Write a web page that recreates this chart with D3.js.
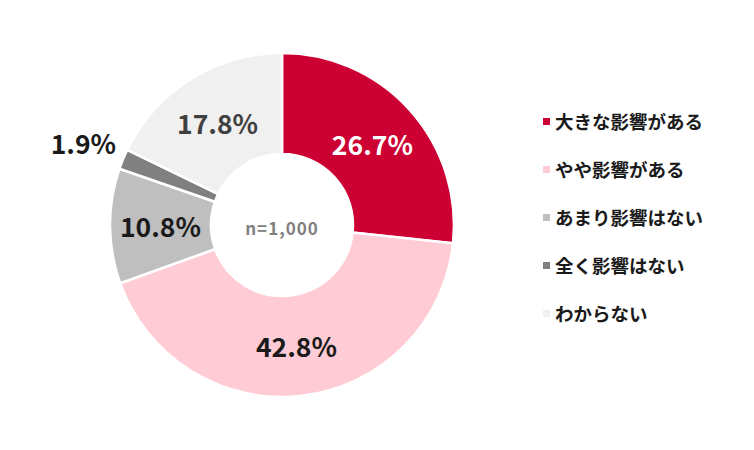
<!DOCTYPE html>
<html>
<head>
<meta charset="utf-8">
<script src="https://cdn.jsdelivr.net/npm/d3@7"></script>
<style>
  body { margin: 0; background: #fff; }
  svg { display: block; }
</style>
</head>
<body>
<div id="chart"></div>
<script>
// data
const categories = ["大きな影響がある", "やや影響がある", "あまり影響はない", "全く影響はない", "わからない"];
const shares = [26.7, 42.8, 10.8, 1.9, 17.8];
const sliceColors = ["#CC0033", "#FFCCD5", "#BFBFBF", "#808080", "#F0F0F0"];
const labelColors = ["#ffffff", "#1a1a1a", "#1a1a1a", "#1a1a1a", "#404040"];
const sampleLabel = "n=1,000";

const width = 754, height = 450;
const cx = 282, cy = 225;
const outerR = 172, innerR = 71;
const fontFamily = "'Noto Sans CJK JP', 'Noto Sans', sans-serif";

const svg = d3.select("#chart")
  .append("svg")
  .attr("width", width)
  .attr("height", height);

const data = categories.map((c, i) => ({ name: c, value: shares[i], i }));

const pie = d3.pie().sort(null).value(d => d.value);
const arc = d3.arc().innerRadius(innerR).outerRadius(outerR);
const arcs = pie(data);

const g = svg.append("g").attr("transform", `translate(${cx}, ${cy})`);

g.selectAll("path")
  .data(arcs)
  .enter()
  .append("path")
  .attr("d", arc)
  .attr("fill", d => sliceColors[d.data.i])
  .attr("stroke", "#fff")
  .attr("stroke-width", 2.5);

// small slices get their label pushed outside
const outsideArc = d3.arc().innerRadius(215).outerRadius(215);

g.selectAll(".pct")
  .data(arcs)
  .enter()
  .append("text")
  .attr("class", "pct")
  .attr("transform", d => {
    const [x, y] = d.data.value < 5 ? outsideArc.centroid(d) : arc.centroid(d);
    return `translate(${x}, ${y})`;
  })
  .attr("text-anchor", "middle")
  .attr("dominant-baseline", "central")
  .attr("font-family", fontFamily)
  .attr("font-weight", "bold")
  .attr("font-size", 26.5)
  .attr("fill", d => labelColors[d.data.i])
  .text(d => d.data.value.toFixed(1) + "%");

g.append("text")
  .attr("x", 0)
  .attr("y", 2)
  .attr("text-anchor", "middle")
  .attr("dominant-baseline", "central")
  .attr("font-family", fontFamily)
  .attr("font-weight", "bold")
  .attr("font-size", 17)
  .attr("letter-spacing", 1)
  .attr("fill", "#808080")
  .text(sampleLabel);

// legend
const legendY = d3.scalePoint()
  .domain(categories)
  .range([121, 313]);

const legend = svg.append("g");

const items = legend.selectAll("g")
  .data(data)
  .enter()
  .append("g")
  .attr("transform", d => `translate(543, ${legendY(d.name)})`);

items.append("rect")
  .attr("x", 0)
  .attr("y", -3)
  .attr("width", 7)
  .attr("height", 7)
  .attr("fill", d => sliceColors[d.i]);

items.append("text")
  .attr("x", 12)
  .attr("y", 0)
  .attr("dominant-baseline", "central")
  .attr("font-family", fontFamily)
  .attr("font-weight", "bold")
  .attr("font-size", 18.5)
  .attr("fill", "#1a1a1a")
  .text(d => d.name);
</script>
</body>
</html>
